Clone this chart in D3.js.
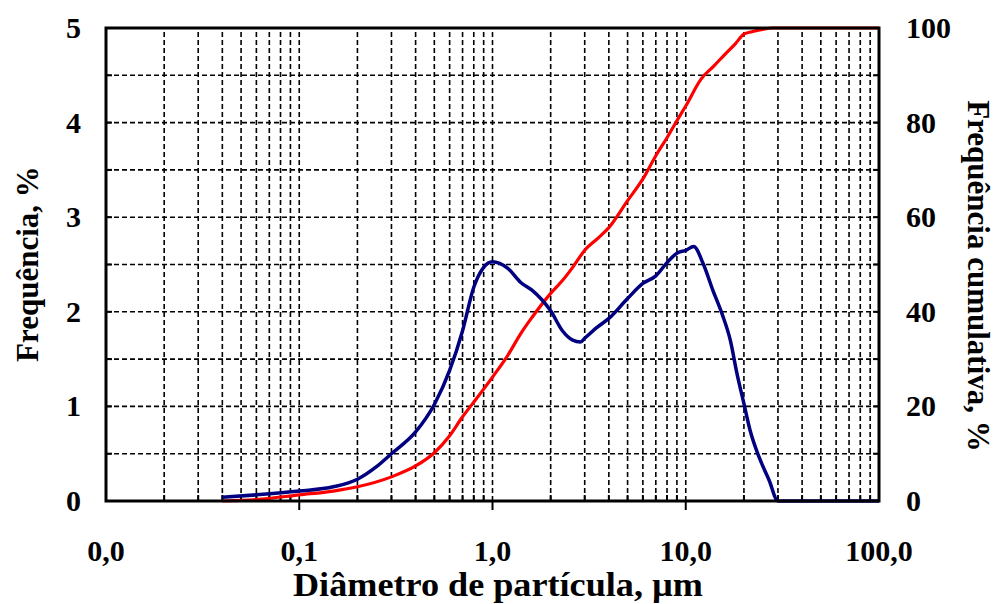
<!DOCTYPE html>
<html>
<head>
<meta charset="utf-8">
<script src="https://cdn.jsdelivr.net/npm/d3@7"></script>
<style>
  body { margin: 0; background: #fff; }
  text { font-family: "Liberation Serif", "Times New Roman", serif; font-weight: bold; fill: #000; }
</style>
</head>
<body>
<div id="chart"></div>
<script>
// diametro (um) e frequencia (%)
var freqDiam = [0.04, 0.06, 0.1, 0.15, 0.2, 0.25, 0.3, 0.4, 0.5, 0.6, 0.7, 0.8, 0.9, 1.0, 1.2, 1.4, 1.6, 2.0, 2.3, 2.6, 2.85, 3.0, 3.5, 4, 5, 6, 7, 8, 9, 10, 11, 12.3, 13.8, 15.4, 17, 18.4, 20, 21.5, 24, 27, 30, 100];
var freq     = [0.04, 0.065, 0.105, 0.15, 0.23, 0.36, 0.5, 0.73, 1.02, 1.38, 1.8, 2.26, 2.47, 2.53, 2.46, 2.31, 2.23, 2.01, 1.8, 1.70, 1.68, 1.72, 1.84, 1.93, 2.14, 2.30, 2.38, 2.52, 2.62, 2.65, 2.69, 2.51, 2.23, 1.98, 1.70, 1.35, 1.03, 0.75, 0.46, 0.22, 0, 0];

// diametro (um) e frequencia cumulativa (%)
var cumDiam = [0.04, 0.06, 0.1, 0.15, 0.2, 0.3, 0.4, 0.5, 0.6, 0.7, 0.8, 1.0, 1.2, 1.4, 1.6, 2.0, 2.3, 2.6, 3.0, 3.5, 4, 5, 6, 7, 8, 9, 10, 12, 14, 16, 18, 20, 22, 25, 28, 100];
var cum     = [0, 0.3, 1.3, 2.1, 3.0, 5.1, 7.4, 10.2, 13.8, 17.8, 20.9, 26.2, 30.8, 35.4, 38.8, 43.9, 46.6, 49.4, 53.0, 55.5, 57.8, 63.5, 68.1, 73.0, 76.8, 80.4, 83.5, 89.2, 92.0, 94.5, 96.6, 98.7, 99.2, 99.7, 100, 100];

var xTicks = [0.01, 0.1, 1, 10, 100];
var yTicks = [0, 1, 2, 3, 4, 5];
var y2Ticks = [0, 20, 40, 60, 80, 100];

var W = 996, H = 604;
var margin = {top: 28, bottom: 103, left: 106, right: 117};

var svg = d3.select("#chart").append("svg")
  .attr("width", W)
  .attr("height", H);

var x = d3.scaleLog().domain([0.01, 100]).range([margin.left, W - margin.right]);
var y = d3.scaleLinear().domain([0, 5]).range([H - margin.bottom, margin.top]);
var y2 = d3.scaleLinear().domain([0, 100]).range([H - margin.bottom, margin.top]);

var x0 = x.range()[0], x1 = x.range()[1], yb = y.range()[0], yt = y.range()[1];

// grade
var grid = svg.append("g").attr("stroke", "#000").attr("stroke-width", 1.6).attr("stroke-dasharray", "5,3");
grid.selectAll(".gv")
  .data(x.ticks().filter(d => d > 0.01 && d < 100))
  .enter().append("line")
  .attr("x1", d => x(d)).attr("x2", d => x(d))
  .attr("y1", yb).attr("y2", yt);
grid.selectAll(".gh")
  .data(d3.range(0.5, 5, 0.5))
  .enter().append("line")
  .attr("x1", x0).attr("x2", x1)
  .attr("y1", d => y(d)).attr("y2", d => y(d));

// tracos dos eixos
var ticks = svg.append("g").attr("stroke", "#000").attr("stroke-width", 2);
ticks.selectAll(".tx")
  .data(x.ticks().filter(d => d > 0.01 && d < 100))
  .enter().append("line")
  .attr("x1", d => x(d)).attr("x2", d => x(d))
  .attr("y1", d => xTicks.indexOf(d) >= 0 ? yb + 9 : yb)
  .attr("y2", d => xTicks.indexOf(d) >= 0 ? yb : yb - 6);
ticks.selectAll(".tyl")
  .data(d3.range(0.5, 5, 0.5))
  .enter().append("line")
  .attr("x1", x0).attr("x2", x0 + 6)
  .attr("y1", d => y(d)).attr("y2", d => y(d));
ticks.selectAll(".tyr")
  .data(d3.range(0.5, 5, 0.5))
  .enter().append("line")
  .attr("x1", x1).attr("x2", x1 - 6)
  .attr("y1", d => y(d)).attr("y2", d => y(d));

// curvas
var lineF = d3.line()
  .x((d, i) => x(freqDiam[i]))
  .y(d => y(d))
  .curve(d3.curveMonotoneX);
var lineC = d3.line()
  .x((d, i) => x(cumDiam[i]))
  .y(d => y2(d))
  .curve(d3.curveMonotoneX);

svg.append("path")
  .datum(cum)
  .attr("d", lineC)
  .attr("fill", "none")
  .attr("stroke", "#ff0000")
  .attr("stroke-width", 3.2)
  .attr("stroke-linejoin", "round");

svg.append("path")
  .datum(freq)
  .attr("d", lineF)
  .attr("fill", "none")
  .attr("stroke", "#000080")
  .attr("stroke-width", 3.5)
  .attr("stroke-linejoin", "round");

// moldura
svg.append("rect")
  .attr("x", x0).attr("y", yt)
  .attr("width", x1 - x0).attr("height", yb - yt)
  .attr("fill", "none")
  .attr("stroke", "#000")
  .attr("stroke-width", 3);

// rotulos
var fmt = d => d3.format(".1f")(d).replace(".", ",");
svg.selectAll(".lx")
  .data(xTicks)
  .enter().append("text")
  .attr("x", d => x(d))
  .attr("y", 561)
  .attr("text-anchor", "middle")
  .style("font-size", "30px")
  .text(fmt);

svg.selectAll(".ly")
  .data(yTicks)
  .enter().append("text")
  .attr("x", 81)
  .attr("y", d => y(d) + 10)
  .attr("text-anchor", "end")
  .style("font-size", "30px")
  .text(d => d);

svg.selectAll(".ly2")
  .data(y2Ticks)
  .enter().append("text")
  .attr("x", 906)
  .attr("y", d => y2(d) + 10)
  .attr("text-anchor", "start")
  .style("font-size", "30px")
  .text(d => d);

svg.append("text")
  .attr("x", 498)
  .attr("y", 596)
  .attr("text-anchor", "middle")
  .attr("textLength", 410)
  .attr("lengthAdjust", "spacingAndGlyphs")
  .style("font-size", "33px")
  .text("Diâmetro de partícula, µm");

svg.append("text")
  .attr("transform", "translate(38,264) rotate(-90)")
  .attr("text-anchor", "middle")
  .style("font-size", "31px")
  .text("Frequência, %");

svg.append("text")
  .attr("transform", "translate(968,276) rotate(90)")
  .attr("text-anchor", "middle")
  .style("font-size", "31px")
  .text("Frequência cumulativa, %");
</script>
</body>
</html>
